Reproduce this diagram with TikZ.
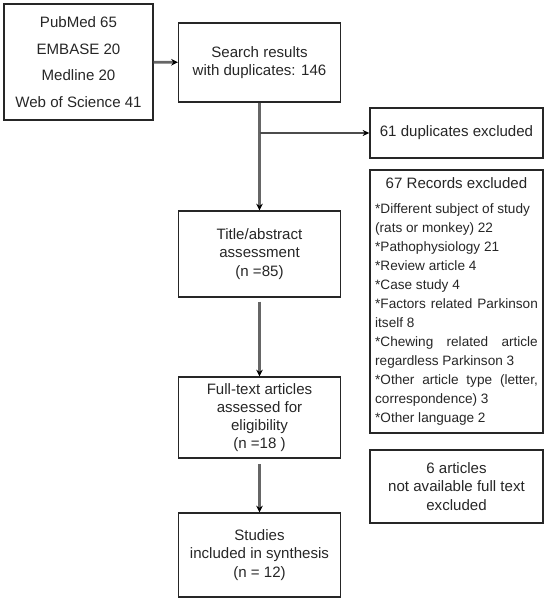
\documentclass[tikz,border=0pt]{standalone}
\usepackage{fontspec}
\setmainfont{Liberation Sans}
\usetikzlibrary{arrows.meta, positioning}
\def\boxw{121.5pt}
\def\sidew{129.75pt}

\begin{document}
\begin{tikzpicture}[x=0.75pt, y=-0.75pt, font=\fontsize{11.3}{13.6}\selectfont]
    \tikzstyle{box}=[draw=black!85, line width=1pt, text=black!85, inner sep=0pt, align=center]
    \tikzstyle{main box}=[box, minimum width=\boxw]
    \tikzstyle{side box}=[box, minimum width=\sidew]
    \tikzstyle{flow}=[draw=black!60, line width=2pt, -{Stealth[length=5pt, width=5pt, color=black]}]
    \tikzstyle{thin flow}=[draw=black!70, line width=1pt, -{Stealth[length=5pt, width=4.5pt, color=black]}]
    \useasboundingbox (0,0) rectangle (549,600);

    % Draw the main column
    \node[box, minimum width=111.75pt, minimum height=87pt, font=\fontsize{11.3}{20}\selectfont] (src) at (78.5,62)
        {PubMed 65\\EMBASE 20\\Medline 20\\Web of Science 41};
    \node[main box, minimum height=59.25pt] (search) at (259.5,62.5) {Search results\\with duplicates: 146};
    \node[main box, minimum height=64.5pt] (title) at (259.5,254) {Title/abstract\\assessment\\(n =85)};
    \node[main box, minimum height=60.75pt] (full) at (259.5,417.5) {Full-text articles\\assessed for\\eligibility\\(n =18 )};
    \node[main box, minimum height=63pt] (studies) at (259.5,555) {Studies\\included in synthesis\\(n = 12)};

    % Draw the excluded boxes
    \node[side box, minimum height=37.5pt] (dup) at (456.5,133) {61 duplicates excluded};
    \node[box, minimum width=\sidew, minimum height=197.25pt, text width=122pt, align=justify,
          font=\fontsize{10.2}{14.25}\selectfont] (rec) at (456.5,301.5)
        {\centerline{\fontsize{11.3}{13.6}\selectfont 67 Records excluded}\vspace{5pt}
        \hyphenpenalty=10000
        {*}Different subject of study\\
        (rats or monkey) 22\\
        {*}Pathophysiology 21\\
        {*}Review article 4\\
        {*}Case study 4\\
        {*}Factors related Parkinson\linebreak
        itself 8\\
        {*}Chewing related article\linebreak
        regardless Parkinson 3\\
        {*}Other article type (letter,\linebreak
        correspondence) 3\\
        {*}Other language 2};
    \node[side box, minimum height=54.75pt] (na) at (456.5,486.5) {6 articles\\not available full text\\excluded};

    % Connect them
    \coordinate (split) at (259.5,133);
    \draw[flow] (src) -- (search);
    \draw[flow] (search) -- (title);
    \draw[thin flow] (split) -- (dup);
    \draw[flow, shorten <=3pt] (title) -- (full);
    \draw[flow, shorten <=4pt] (full) -- (studies);
\end{tikzpicture}
\end{document}
